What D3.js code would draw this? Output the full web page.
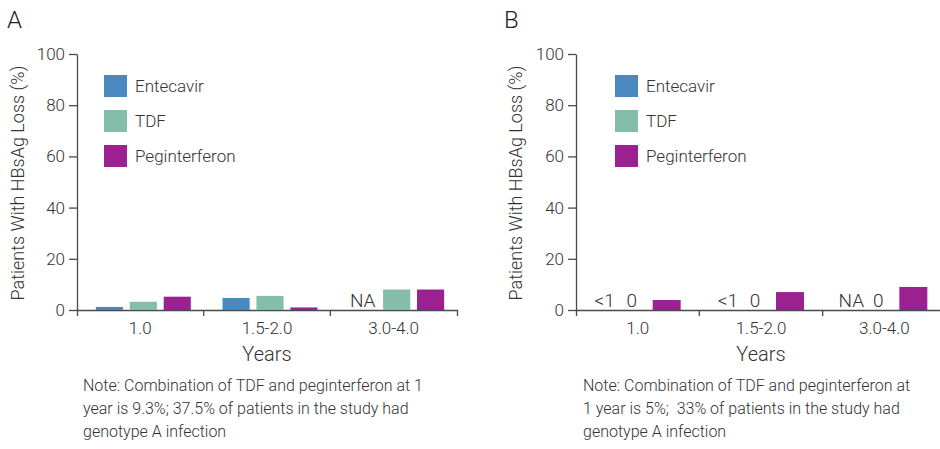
<!DOCTYPE html>
<html>
<head>
<meta charset="utf-8">
<script src="https://cdn.jsdelivr.net/npm/d3@7"></script>
<style>
  body { margin: 0; background: #fff; }
  svg { display: block; font-family: "Roboto", sans-serif; font-weight: 300; }
  text { white-space: pre; }
</style>
</head>
<body>
<svg width="940" height="449"></svg>
<script>
var categories = ["1.0", "1.5-2.0", "3.0-4.0"];
var seriesNames = ["Entecavir", "TDF", "Peginterferon"];
var yTicks = [0, 20, 40, 60, 80, 100];

// panel A values (% HBsAg loss), null = no bar
var entecavirA = [1.2, 4.7, null];
var tdfA = [3.2, 5.5, 8.0];
var pegA = [5.2, 1.0, 8.0];
var entecavirLabelA = [null, null, "NA"];
var tdfLabelA = [null, null, null];

// panel B values
var entecavirB = [null, null, null];
var tdfB = [null, null, null];
var pegB = [3.9, 7.0, 9.0];
var entecavirLabelB = ["<1", "<1", "NA"];
var tdfLabelB = ["0", "0", "0"];

var noteA = ["Note: Combination of TDF and peginterferon at 1",
             "year is 9.3%; 37.5% of patients in the study had",
             "genotype A infection"];
var noteB = ["Note: Combination of TDF and peginterferon at",
             "1 year is 5%;  33% of patients in the study had",
             "genotype A infection"];

var colors = { "Entecavir": "#4a89c0", "TDF": "#84bdaa", "Peginterferon": "#9b2191" };
var textColor = "#333";
var axisColor = "#4a4a4a";

var svg = d3.select("svg");

function drawPanel(p) {
    var g = svg.append("g");

    var y = d3.scaleLinear().domain([0, 100]).range([310, 54]);
    var x = d3.scaleBand().domain(categories).range([p.left, p.right]);
    var x1 = d3.scaleBand().domain(seriesNames).range([0, p.groupWidth]).paddingInner(0.2);
    var groupOff = (x.bandwidth() - p.groupWidth) / 2 + p.shift;

    // panel letter
    g.append("text")
        .attr("x", p.letterX).attr("y", 28)
        .attr("font-size", 24).attr("fill", "#222")
        .text(p.letter);

    // y axis
    var yAxis = g.append("g")
        .attr("transform", "translate(" + p.left + ",0)")
        .call(d3.axisLeft(y).tickValues(yTicks).tickSize(8).tickSizeOuter(0).tickPadding(4));
    yAxis.selectAll("text").attr("font-size", 17).attr("fill", textColor);

    // x axis: labels at band centres, ticks at band edges
    var xAxis = g.append("g")
        .attr("transform", "translate(0,310)")
        .call(d3.axisBottom(x).tickSize(0).tickSizeOuter(6).tickPadding(12));
    xAxis.selectAll("text").attr("font-size", 17).attr("fill", textColor);
    xAxis.selectAll(".edge")
        .data(categories.slice(1))
        .enter().append("line")
        .attr("x1", function(d){ return x(d); })
        .attr("x2", function(d){ return x(d); })
        .attr("y1", 0).attr("y2", 6)
        .attr("stroke", axisColor);

    [yAxis, xAxis].forEach(function(a){
        a.attr("font-family", null).attr("font-size", null);
        a.selectAll("path, line").attr("stroke", axisColor).attr("stroke-width", 1.3);
    });

    // bars
    var rows = [];
    categories.forEach(function(c, i){
        seriesNames.forEach(function(s, j){
            rows.push({ cat: c, series: s, value: p.values[j][i], label: p.labels[j] ? p.labels[j][i] : null });
        });
    });

    g.selectAll("rect.bar")
        .data(rows.filter(function(d){ return d.value != null; }))
        .enter().append("rect")
        .attr("class", "bar")
        .attr("x", function(d){ return x(d.cat) + groupOff + x1(d.series); })
        .attr("width", x1.bandwidth())
        .attr("y", function(d){ return y(d.value); })
        .attr("height", function(d){ return y(0) - y(d.value); })
        .attr("fill", function(d){ return colors[d.series]; });

    g.selectAll("text.lbl")
        .data(rows.filter(function(d){ return d.label != null; }))
        .enter().append("text")
        .attr("class", "lbl")
        .attr("x", function(d){ return x(d.cat) + groupOff + x1(d.series) + x1.bandwidth() / 2 + (d.series === "Entecavir" ? p.labelShift : 0); })
        .attr("y", 307)
        .attr("text-anchor", "middle")
        .attr("font-size", 19).attr("fill", textColor)
        .text(function(d){ return d.label; });

    // axis titles
    g.append("text")
        .attr("transform", "translate(" + p.titleX + ",183) rotate(-90)")
        .attr("text-anchor", "middle")
        .attr("font-size", 18).attr("fill", textColor)
        .text("Patients With HBsAg Loss (%)");

    g.append("text")
        .attr("x", (x.range()[0] + x.range()[1]) / 2 - p.yearsOff)
        .attr("y", 361)
        .attr("text-anchor", "middle")
        .attr("font-size", 20).attr("fill", textColor)
        .text("Years");

    // legend
    var leg = g.selectAll("g.leg")
        .data(seriesNames)
        .enter().append("g")
        .attr("transform", function(d, i){ return "translate(" + p.legendX + "," + (75 + i * 35) + ")"; });
    leg.append("rect").attr("width", 23).attr("height", 22)
        .attr("fill", function(d){ return colors[d]; });
    leg.append("text").attr("x", 31).attr("y", 17)
        .attr("font-size", 17).attr("fill", textColor)
        .text(function(d){ return d; });

    // note
    g.append("text")
        .attr("font-size", 16).attr("fill", textColor)
        .selectAll("tspan")
        .data(p.note)
        .enter().append("tspan")
        .attr("x", p.noteX)
        .attr("y", function(d, i){ return 391 + i * 23; })
        .text(function(d){ return d; });
}

drawPanel({
    letter: "A", letterX: 7, left: 77, right: 457, groupWidth: 95, shift: 3,
    values: [entecavirA, tdfA, pegA], labels: [entecavirLabelA, tdfLabelA, null],
    labelShift: 0, titleX: 24, yearsOff: 0, legendX: 104, noteX: 83, note: noteA
});

drawPanel({
    letter: "B", letterX: 504, left: 576, right: 946, groupWidth: 98, shift: -6,
    values: [entecavirB, tdfB, pegB], labels: [entecavirLabelB, tdfLabelB, null],
    labelShift: 8, titleX: 522, yearsOff: 0, legendX: 615, noteX: 583, note: noteB
});
</script>
</body>
</html>
